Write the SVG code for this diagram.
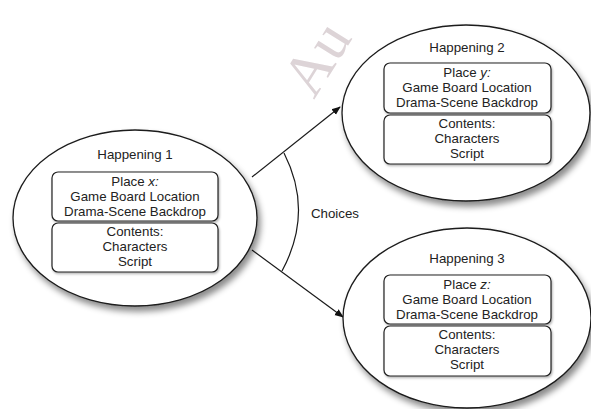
<svg xmlns="http://www.w3.org/2000/svg" width="591" height="409" viewBox="0 0 591 409">
<defs>
<filter id="sh" x="-10%" y="-10%" width="125%" height="130%">
<feDropShadow dx="3" dy="5" stdDeviation="3" flood-color="#000" flood-opacity="0.45"/>
</filter>
<filter id="bsh" x="-5%" y="-10%" width="110%" height="130%">
<feDropShadow dx="1" dy="1.5" stdDeviation="1" flood-color="#000" flood-opacity="0.3"/>
</filter>
<marker id="ah" viewBox="0 0 10 10" refX="9" refY="5" markerWidth="9" markerHeight="9" markerUnits="userSpaceOnUse" orient="auto">
<path d="M0,1 L10,5 L0,9 Z" fill="#111"/>
</marker>
</defs>
<style>
.ell{fill:#fff;stroke:#1a1a1a;stroke-width:1.3;filter:url(#sh)}
.box{fill:#fff;stroke:#222;stroke-width:1.2;filter:url(#bsh)}
text{font-family:"Liberation Sans",Arial,sans-serif;font-size:13.3px;fill:#222;text-anchor:middle}
.con{fill:none;stroke:#1a1a1a;stroke-width:1.2}
.wm{font-family:"Liberation Serif","Times New Roman",serif;font-size:60px;fill:#ddd4d7;text-anchor:start}
</style>
<rect width="591" height="409" fill="#fff"/>
<text class="wm" transform="translate(314,100) rotate(-58)">Au</text>
<g id="connectors">
<path class="con" d="M252,177 L340,107" marker-end="url(#ah)"/>
<path class="con" d="M252,250 L343,317" marker-end="url(#ah)"/>
<path class="con" d="M284,153 Q314,212 282,271"/>
<text x="335" y="218">Choices</text>
</g>
<g id="happening1">
<ellipse class="ell" cx="135" cy="218" rx="122" ry="88"/>
<text x="135" y="159">Happening 1</text>
<rect class="box" x="52" y="172" width="166" height="49" rx="6"/>
<text x="135" y="186">Place <tspan font-style="italic">x:</tspan></text>
<text x="135" y="201">Game Board Location</text>
<text x="135" y="216">Drama-Scene Backdrop</text>
<rect class="box" x="52" y="223" width="166" height="49" rx="6"/>
<text x="135" y="236">Contents:</text>
<text x="135" y="251">Characters</text>
<text x="135" y="266">Script</text>
</g>
<g id="happening2">
<ellipse class="ell" cx="466" cy="113" rx="124" ry="88"/>
<text x="467" y="52">Happening 2</text>
<rect class="box" x="384" y="63" width="167" height="50" rx="6"/>
<text x="467" y="77">Place <tspan font-style="italic">y:</tspan></text>
<text x="467" y="92">Game Board Location</text>
<text x="467" y="107">Drama-Scene Backdrop</text>
<rect class="box" x="384" y="115" width="167" height="49" rx="6"/>
<text x="467" y="128">Contents:</text>
<text x="467" y="143">Characters</text>
<text x="467" y="158">Script</text>
</g>
<g id="happening3">
<ellipse class="ell" cx="467" cy="318" rx="124" ry="90"/>
<text x="467" y="263">Happening 3</text>
<rect class="box" x="384" y="275" width="167" height="49" rx="6"/>
<text x="467" y="289">Place <tspan font-style="italic">z:</tspan></text>
<text x="467" y="304">Game Board Location</text>
<text x="467" y="319">Drama-Scene Backdrop</text>
<rect class="box" x="384" y="326" width="167" height="50" rx="6"/>
<text x="467" y="339">Contents:</text>
<text x="467" y="354">Characters</text>
<text x="467" y="369">Script</text>
</g>
</svg>
